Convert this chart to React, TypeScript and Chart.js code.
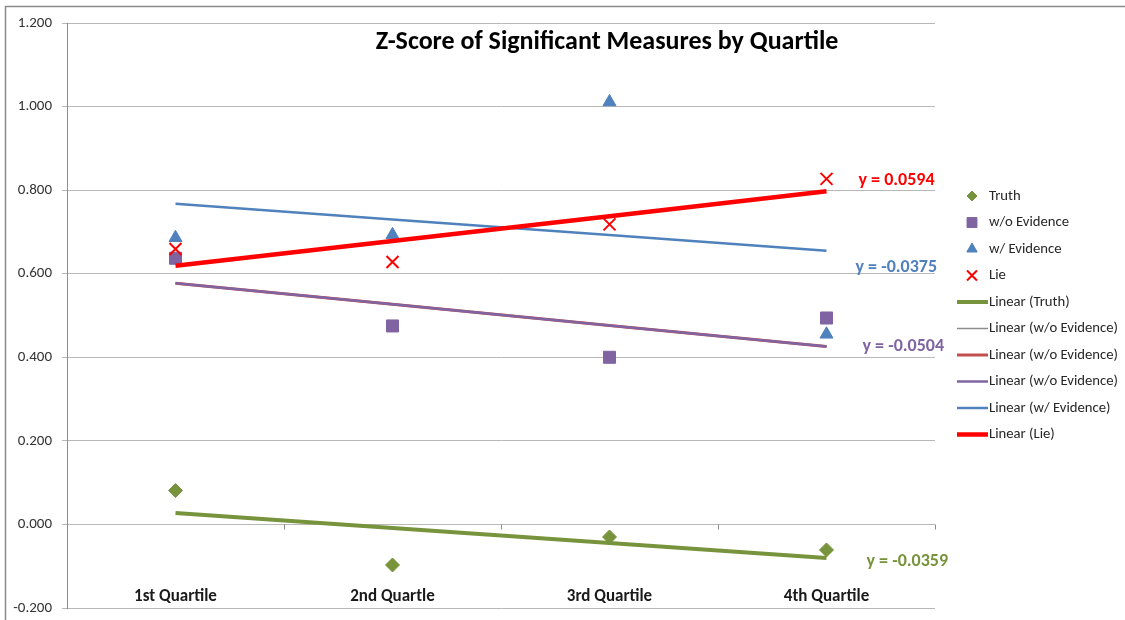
import React, { useEffect, useRef } from "react";
import { Chart, registerables } from "chart.js";
import { drawPoint } from "chart.js/helpers";

Chart.register(...registerables);

// ---------- data ----------
const categories = ["1st Quartile", "2nd Quartle", "3rd Quartile", "4th Quartile"];
const truth = [0.081, -0.097, -0.03, -0.061];
const woEvidence = [0.637, 0.475, 0.4, 0.494];
const wEvidence = [0.686, 0.693, 1.011, 0.455];
const lie = [0.659, 0.628, 0.718, 0.827];
const yTickStep = 0.2;
const yMin = -0.2;
const yMax = 1.2;
const trendLabelTruth = "y = -0.0359";
const trendLabelWo = "y = -0.0504";
const trendLabelW = "y = -0.0375";
const trendLabelLie = "y = 0.0594";
const chartTitle = "Z-Score of Significant Measures by Quartile";

// least squares line over x = 1..n (as Excel's linear trendline)
function linearTrend(vals: number[]): number[] {
  const n = vals.length;
  const xs = vals.map((_, i) => i + 1);
  const mx = xs.reduce((a, b) => a + b, 0) / n;
  const my = vals.reduce((a, b) => a + b, 0) / n;
  let sxy = 0;
  let sxx = 0;
  for (let i = 0; i < n; i++) {
    sxy += (xs[i] - mx) * (vals[i] - my);
    sxx += (xs[i] - mx) * (xs[i] - mx);
  }
  const slope = sxy / sxx;
  const icpt = my - slope * mx;
  return xs.map((x) => icpt + slope * x);
}

const FONT = "Carlito, Calibri, 'Open Sans', sans-serif";

const GREEN = "#77933C";
const PURPLE = "#8064A2";
const BLUE = "#4F81BD";
const RED = "#FF0000";
const DARKRED = "#C0504D";
const GRAY = "#8C8C8C";

type Item = {
  label: string;
  kind: "point" | "line";
  data: number[];
  color: string;
  pointStyle?: string;
  radius?: number;
  legendRadius?: number;
  width?: number;
  trendLabel?: { text: string; dx: number; dy: number };
};

const legendItems: Item[] = [
  { label: "Truth", kind: "point", data: truth, color: GREEN, pointStyle: "rectRot", radius: 7, legendRadius: 5 },
  { label: "w/o Evidence", kind: "point", data: woEvidence, color: PURPLE, pointStyle: "rect", radius: 8.5, legendRadius: 7 },
  { label: "w/ Evidence", kind: "point", data: wEvidence, color: BLUE, pointStyle: "triangle", radius: 7.5, legendRadius: 6 },
  { label: "Lie", kind: "point", data: lie, color: RED, pointStyle: "crossRot", radius: 8.5, legendRadius: 7 },
  { label: "Linear (Truth)", kind: "line", data: linearTrend(truth), color: GREEN, width: 4, trendLabel: { text: trendLabelTruth, dx: 40, dy: 3 } },
  { label: "Linear (w/o Evidence)", kind: "line", data: linearTrend(woEvidence), color: GRAY, width: 1.5 },
  { label: "Linear (w/o Evidence)", kind: "line", data: linearTrend(woEvidence), color: DARKRED, width: 3 },
  { label: "Linear (w/o Evidence)", kind: "line", data: linearTrend(woEvidence), color: PURPLE, width: 2.5, trendLabel: { text: trendLabelWo, dx: 36, dy: 0 } },
  { label: "Linear (w/ Evidence)", kind: "line", data: linearTrend(wEvidence), color: BLUE, width: 2.5, trendLabel: { text: trendLabelW, dx: 29, dy: 17 } },
  { label: "Linear (Lie)", kind: "line", data: linearTrend(lie), color: RED, width: 4.5, trendLabel: { text: trendLabelLie, dx: 32, dy: -11 } },
];

const overlayPlugin = {
  id: "excelOverlay",
  afterDraw(chart: any) {
    const ctx: CanvasRenderingContext2D = chart.ctx;
    const xs = chart.scales.x;
    const ys = chart.scales.y;
    ctx.save();

    // frame (top & left)
    ctx.strokeStyle = "#8a8a8a";
    ctx.lineWidth = 1.5;
    ctx.beginPath();
    ctx.moveTo(5.5, chart.height);
    ctx.lineTo(5.5, 6.5);
    ctx.lineTo(chart.width, 6.5);
    ctx.stroke();

    // x axis tick marks on zero line at category boundaries
    const y0 = Math.round(ys.getPixelForValue(0)) + 0.5;
    ctx.strokeStyle = "#8c8c8c";
    ctx.lineWidth = 1;
    ctx.beginPath();
    for (let i = 0; i < categories.length; i++) {
      const bx = Math.round(xs.getPixelForValue(i + 0.5)) + 0.5;
      ctx.moveTo(bx, y0);
      ctx.lineTo(bx, y0 + 5);
    }
    ctx.stroke();

    // category labels (low position)
    ctx.fillStyle = "#1a1a1a";
    ctx.font = `bold 17px ${FONT}`;
    ctx.textAlign = "center";
    ctx.textBaseline = "middle";
    const yLow = ys.getPixelForValue(yMin) - 11;
    categories.forEach((c, i) => {
      ctx.fillText(c, xs.getPixelForValue(i), yLow);
    });

    // title
    ctx.font = `bold 26px ${FONT}`;
    ctx.fillStyle = "#000";
    ctx.fillText(chartTitle, 607, 42);

    // trendline labels
    ctx.textAlign = "left";
    ctx.font = `bold 18px ${FONT}`;
    legendItems.forEach((it) => {
      if (!it.trendLabel) return;
      const last = it.data.length - 1;
      const ex = xs.getPixelForValue(last);
      const ey = ys.getPixelForValue(it.data[last]);
      ctx.fillStyle = it.color;
      ctx.fillText(it.trendLabel.text, ex + it.trendLabel.dx, ey + it.trendLabel.dy);
    });

    // legend
    ctx.font = `14.7px ${FONT}`;
    legendItems.forEach((it, i) => {
      const ly = 196 + i * 26.5;
      if (it.kind === "point") {
        ctx.fillStyle = it.color;
        ctx.strokeStyle = it.color;
        ctx.lineWidth = it.pointStyle === "crossRot" ? 2 : 1;
        drawPoint(ctx, { pointStyle: it.pointStyle as any, radius: it.legendRadius || 5, rotation: 0, borderWidth: ctx.lineWidth }, 972, ly);
      } else {
        ctx.strokeStyle = it.color;
        ctx.lineWidth = it.width || 2;
        ctx.beginPath();
        ctx.moveTo(957, ly);
        ctx.lineTo(988, ly);
        ctx.stroke();
      }
      ctx.fillStyle = "#262626";
      ctx.fillText(it.label, 989, ly);
    });

    ctx.restore();
  },
};

export default function App() {
  const ref = useRef<HTMLCanvasElement | null>(null);

  useEffect(() => {
    if (!ref.current) return;
    // draw order: first dataset on top -> reverse legend order
    const datasets = legendItems
      .slice()
      .reverse()
      .map((it) =>
        it.kind === "point"
          ? {
              label: it.label,
              data: it.data,
              showLine: false,
              pointStyle: it.pointStyle,
              pointRadius: it.radius,
              pointHoverRadius: it.radius,
              pointBackgroundColor: it.color,
              pointBorderColor: it.color,
              pointBorderWidth: it.pointStyle === "crossRot" ? 2 : 1,
              borderColor: it.color,
              backgroundColor: it.color,
            }
          : {
              label: it.label,
              data: it.data,
              showLine: true,
              borderColor: it.color,
              borderWidth: it.width,
              pointRadius: 0,
              pointHoverRadius: 0,
              fill: false,
              tension: 0,
            }
      );

    const chart = new Chart(ref.current, {
      type: "line",
      data: { labels: categories, datasets: datasets as any },
      options: {
        animation: false,
        responsive: false,
        maintainAspectRatio: false,
        layout: { padding: { left: 0, right: 190, top: 23, bottom: 12 } },
        plugins: {
          legend: { display: false },
          title: { display: false },
          tooltip: { enabled: false },
        },
        scales: {
          x: {
            type: "category",
            offset: true,
            display: false,
          },
          y: {
            min: yMin,
            max: yMax,
            ticks: {
              stepSize: yTickStep,
              callback: (v: any) => (Math.abs(Number(v)) < 1e-9 ? 0 : Number(v)).toFixed(3),
              color: "#333",
              font: { family: FONT, size: 15 },
              padding: 10,
            },
            grid: { color: "#b8b8b8", tickLength: 5, lineWidth: 1 },
            border: { color: "#8c8c8c" },
            afterFit: (s: any) => {
              s.width = 67;
              s.paddingTop = 0;
              s.paddingBottom = 0;
            },
          },
        },
      },
      plugins: [overlayPlugin],
    });
    return () => chart.destroy();
  }, []);

  return (
    <div style={{ position: "fixed", left: 0, top: 0, width: 1125, height: 620, background: "#fff" }}>
      <canvas ref={ref} width={1125} height={620} style={{ width: 1125, height: 620 }} />
    </div>
  );
}
